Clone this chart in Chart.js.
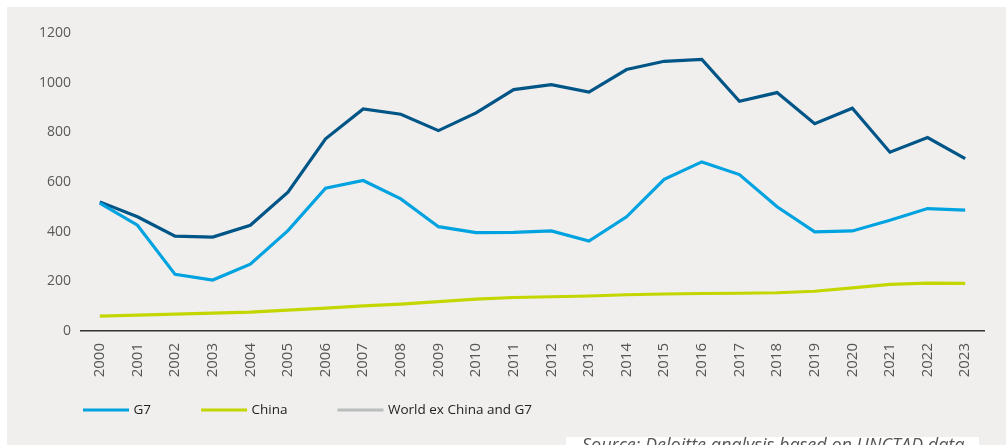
<!DOCTYPE html>
<html>
<head>
<meta charset="utf-8">
<title>FDI flows</title>
<script src="https://cdn.jsdelivr.net/npm/chart.js@4.4.1/dist/chart.umd.min.js"></script>
<style>
  html, body { margin: 0; padding: 0; background: #fff; overflow: hidden; }
  #wrap { position: relative; width: 1006px; height: 445px; }
  #panel { position: absolute; left: 7px; top: 7px; right: 0; bottom: 0; background: #f0efee; }
  #chart { position: absolute; left: 0; top: 0; }
  #source {
    position: absolute; left: 566px; top: 437px; width: 413px; height: 20px;
    box-sizing: border-box; padding: 0 0 0 16px;
    background: #fff; color: #555;
    font: italic 18px 'Open Sans', sans-serif; line-height: 14px; white-space: nowrap;
  }
</style>
</head>
<body>
<div id="wrap">
  <div id="panel"></div>
  <canvas id="chart" width="1006" height="445"></canvas>
  <div id="source">Source: Deloitte analysis based on UNCTAD data</div>
</div>
<script>
const years = ['2000', '2001', '2002', '2003', '2004', '2005', '2006', '2007', '2008', '2009', '2010', '2011',
  '2012', '2013', '2014', '2015', '2016', '2017', '2018', '2019', '2020', '2021', '2022', '2023'];
const g7 = [515, 426, 228, 205, 269, 404, 575, 606, 532, 420, 396, 397,
  403, 362, 460, 611, 681, 630, 500, 399, 403, 446, 493, 487];
const china = [60, 64, 68, 72, 76, 84, 92, 101, 108, 118, 128, 135,
  138, 141, 146, 149, 151, 152, 154, 160, 174, 188, 193, 192];
const worldExChinaG7 = [520, 460, 382, 378, 426, 559, 774, 894, 873, 807, 878, 972,
  992, 962, 1053, 1086, 1094, 925, 960, 835, 897, 720, 779, 694];
const yTicks = [0, 200, 400, 600, 800, 1000, 1200];

const seriesNames = ['G7', 'China', 'World ex China and G7'];
const lineColours = ['#00a3e0', '#c4d600', '#005587'];
// the key shows the third series in grey
const keyColours = ['#00a3e0', '#c4d600', '#bbbcbc'];

// hand-drawn key under the axis: short line, then the name
const lineKey = {
  id: 'lineKey',
  afterDraw(chart) {
    const { ctx, chartArea } = chart;
    const y = chart.height - 35;
    let x = chartArea.left + 2;
    ctx.save();
    ctx.font = '13.5px "Open Sans"';
    ctx.textBaseline = 'middle';
    ctx.lineWidth = 3;
    chart.data.datasets.forEach((ds, i) => {
      ctx.strokeStyle = keyColours[i];
      ctx.beginPath();
      ctx.moveTo(x, y);
      ctx.lineTo(x + 46, y);
      ctx.stroke();
      ctx.fillStyle = '#222';
      ctx.fillText(ds.label, x + 50.5, y);
      x += 50.5 + ctx.measureText(ds.label).width + 50;
    });
    ctx.restore();
  }
};

const series = [g7, china, worldExChinaG7];

new Chart(document.getElementById('chart'), {
  type: 'line',
  data: {
    labels: years,
    datasets: series.map((data, i) => ({
      label: seriesNames[i],
      data,
      borderColor: lineColours[i],
      backgroundColor: lineColours[i],
      borderWidth: 3.2,
      pointRadius: 0,
      tension: 0,
      order: i === 2 ? 1 : 0,
    })),
  },
  options: {
    responsive: false,
    animation: false,
    layout: { padding: { top: 33, right: 22, left: 0, bottom: 0 } },
    plugins: {
      legend: { display: false },
      tooltip: { enabled: false },
    },
    scales: {
      x: {
        offset: true,
        grid: { display: false, drawTicks: false },
        border: { display: true, color: '#333', width: 1.5 },
        ticks: {
          color: '#555',
          font: { family: 'Open Sans', size: 15 },
          minRotation: 90,
          maxRotation: 90,
          padding: 12,
          autoSkip: false,
        },
        afterFit(scale) { scale.height = 114; },
      },
      y: {
        min: 0,
        max: 1200,
        afterBuildTicks(scale) { scale.ticks = yTicks.map(v => ({ value: v })); },
        grid: { display: false, drawTicks: false },
        border: { display: false },
        ticks: {
          color: '#595959',
          font: { family: 'Open Sans', size: 14 },
          padding: 10,
          callback: v => String(v),
        },
        afterFit(scale) { scale.width = 81; },
      },
    },
  },
  plugins: [lineKey],
});
</script>
</body>
</html>
